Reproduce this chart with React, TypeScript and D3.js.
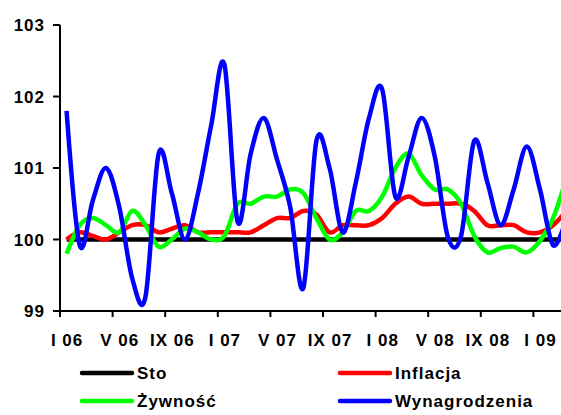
import React from "react";
import { scaleLinear, line, curveCardinal } from "d3";

const width = 561;
const height = 415;

// month index 0 = I 06
const tickLabels = ["I 06", "V 06", "IX 06", "I 07", "V 07", "IX 07", "I 08", "V 08", "IX 08", "I 09"];
const yTicks = [99, 100, 101, 102, 103];

const sto = [
  100, 100, 100, 100, 100, 100, 100, 100, 100, 100, 100, 100, 100, 100, 100, 100, 100, 100, 100, 100,
  100, 100, 100, 100, 100, 100, 100, 100, 100, 100, 100, 100, 100, 100, 100, 100, 100, 100, 100,
];
const inflacja = [
  100.0, 100.1, 100.05, 100.0, 100.1, 100.2, 100.2, 100.1, 100.15, 100.2, 100.1, 100.1, 100.1, 100.1,
  100.1, 100.2, 100.3, 100.3, 100.4, 100.35, 100.1, 100.2, 100.2, 100.2, 100.3, 100.5, 100.6, 100.5,
  100.5, 100.5, 100.5, 100.4, 100.2, 100.2, 100.2, 100.1, 100.1, 100.2, 100.4,
];
const zywnosc = [
  99.8, 100.2, 100.3, 100.2, 100.1, 100.4, 100.2, 99.9, 100.0, 100.15, 100.1, 100.0, 100.05, 100.5,
  100.5, 100.6, 100.6, 100.7, 100.65, 100.3, 100.0, 100.1, 100.4, 100.4, 100.6, 101.0, 101.2, 100.9,
  100.7, 100.7, 100.5, 100.05, 99.82, 99.88, 99.9, 99.82, 99.98, 100.3, 100.85,
];
const wynagrodzenia = [
  101.8, 99.92, 100.55, 101.0, 100.46, 99.45, 99.2, 101.2, 100.65, 100.0, 100.65, 101.6, 102.45, 100.25,
  101.2, 101.7, 101.12, 100.46, 99.32, 101.38, 101.0, 100.1, 100.8, 101.7, 102.1, 100.6, 101.15, 101.7,
  101.16, 100.03, 100.05, 101.38, 100.8, 100.2, 100.7, 101.3, 100.7, 99.92, 100.3,
];

const series = [
  { name: "Sto", values: sto, color: "#000000" },
  { name: "Inflacja", values: inflacja, color: "#ff0000" },
  { name: "Żywność", values: zywnosc, color: "#00ff00" },
  { name: "Wynagrodzenia", values: wynagrodzenia, color: "#0000ff" },
];

const font = "'Liberation Sans', Arial, sans-serif";

export default function App() {
  // xScale: month index -> px, ticks between categories every 4 months
  const xScale = scaleLinear().domain([0, 38]).range([60, 559.7]);
  const yScale = scaleLinear().domain([99, 103]).range([311, 25]);

  // excel-like smoothing
  const path = line<number>()
    .curve(curveCardinal.tension(0))
    .x((d, i) => xScale(i + 0.5))
    .y((d) => yScale(d));

  const textStyle = { fontFamily: font, fontSize: 17, fontWeight: 700, letterSpacing: 1 };

  return (
    <svg width={width} height={height} style={{ position: "absolute", left: 0, top: 0, background: "#fff" }}>
      {/* Y axis */}
      <line x1={60} x2={60} y1={yScale(103)} y2={yScale(99)} stroke="#000" strokeWidth={2} />
      {yTicks.map((t) => (
        <g key={t} transform={`translate(0, ${yScale(t)})`}>
          <line x1={53} x2={60} stroke="#000" strokeWidth={2} />
          <text x={45} dy="0.36em" textAnchor="end" style={textStyle}>
            {t}
          </text>
        </g>
      ))}

      {/* X axis */}
      <line x1={60} x2={width} y1={yScale(99)} y2={yScale(99)} stroke="#000" strokeWidth={2} />
      {tickLabels.map((label, k) => {
        const m = k * 4;
        return (
          <g key={label}>
            <line x1={xScale(m)} x2={xScale(m)} y1={yScale(99)} y2={yScale(99) + 6} stroke="#000" strokeWidth={2} />
            <text x={xScale(m + 0.5) + 0.5} y={346} textAnchor="middle" style={textStyle}>
              {label}
            </text>
          </g>
        );
      })}

      {/* marks */}
      {series.map((s) => (
        <path key={s.name} d={path(s.values) || ""} fill="none" stroke={s.color} strokeWidth={4.5} strokeLinejoin="round" />
      ))}

      {/* legend */}
      {series.map((s, i) => {
        const lx = i % 2 === 0 ? 82 : 340;
        const ly = i < 2 ? 373 : 401;
        return (
          <g key={s.name}>
            <line x1={lx} x2={lx + 50} y1={ly} y2={ly} stroke={s.color} strokeWidth={4.5} strokeLinecap="round" />
            <text x={lx + 55} y={ly} dy="0.36em" style={textStyle}>
              {s.name}
            </text>
          </g>
        );
      })}
    </svg>
  );
}
